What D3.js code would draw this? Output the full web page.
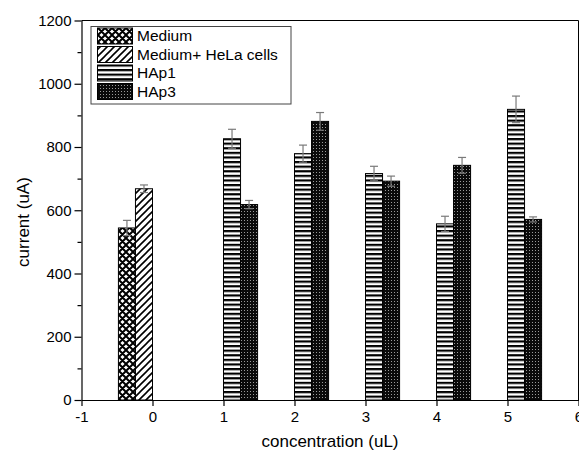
<!DOCTYPE html>
<html>
<head>
<meta charset="utf-8">
<script src="https://cdn.jsdelivr.net/npm/d3@7"></script>
<style>
  html, body { margin: 0; padding: 0; background: #fff; }
  svg { display: block; font-family: "Liberation Sans", Arial, sans-serif; }
</style>
</head>
<body>
<svg id="chart" width="579" height="455"></svg>
<script>
// Series names and their fill patterns
const seriesNames = ["Medium", "Medium+ HeLa cells", "HAp1", "HAp3"];
const seriesPatterns = ["pat-cross", "pat-slash", "pat-hline", "pat-dots"];

// Control measurements at x = 0
const mediumValue = [544];
const mediumError = [24];
const helaValue = [668];
const helaError = [12];

// Concentrations and currents
const concentrations = [1, 2, 3, 4, 5];
const hap1Values = [826, 779, 716, 557, 919];
const hap1Errors = [30, 27, 23, 24, 42];
const hap3Values = [618, 881, 692, 742, 571];
const hap3Errors = [13, 28, 16, 25, 8];

const xTicks = [-1, 0, 1, 2, 3, 4, 5, 6];
const yTicks = [0, 200, 400, 600, 800, 1000, 1200];
const yMinorTicks = [100, 300, 500, 700, 900, 1100];

const barWidth = 0.24;

const svg = d3.select("#chart");
const plotLeft = 81.5, plotRight = 578.5, plotTop = 20.5, plotBottom = 400;

const x = d3.scaleLinear().domain([-1, 6]).range([plotLeft, plotRight]);
const y = d3.scaleLinear().domain([0, 1200]).range([plotBottom, plotTop]);

// Fill patterns
const defs = svg.append("defs");

const cross = defs.append("pattern").attr("id", "pat-cross")
  .attr("patternUnits", "userSpaceOnUse").attr("width", 7).attr("height", 7);
cross.append("rect").attr("width", 7).attr("height", 7).attr("fill", "#fff");
cross.append("path").attr("d", "M0,0L7,7M7,0L0,7M-1,6L1,8M6,-1L8,1M-1,1L1,-1M6,8L8,6")
  .attr("stroke", "#000").attr("stroke-width", 2);

const slash = defs.append("pattern").attr("id", "pat-slash")
  .attr("patternUnits", "userSpaceOnUse").attr("width", 7).attr("height", 7);
slash.append("rect").attr("width", 7).attr("height", 7).attr("fill", "#fff");
slash.append("path").attr("d", "M0,7L7,0M-1,1L1,-1M6,8L8,6")
  .attr("stroke", "#000").attr("stroke-width", 1.6);

const hline = defs.append("pattern").attr("id", "pat-hline")
  .attr("patternUnits", "userSpaceOnUse").attr("width", 6).attr("height", 4.6);
hline.append("rect").attr("width", 6).attr("height", 4.6).attr("fill", "#fff");
hline.append("rect").attr("y", 0).attr("width", 6).attr("height", 2.2).attr("fill", "#000");

const dots = defs.append("pattern").attr("id", "pat-dots")
  .attr("patternUnits", "userSpaceOnUse").attr("width", 3).attr("height", 3);
dots.append("rect").attr("width", 3).attr("height", 3).attr("fill", "#0a0a0a");
dots.append("rect").attr("x", 1).attr("y", 1).attr("width", 1).attr("height", 1).attr("fill", "#9a9a9a");

// Bar records built from the arrays above
const bars = [
  { s: 0, x0: -0.48, v: mediumValue[0], e: mediumError[0] },
  { s: 1, x0: -0.24, v: helaValue[0], e: helaError[0] }
];
concentrations.forEach((c, i) => {
  bars.push({ s: 2, x0: c, v: hap1Values[i], e: hap1Errors[i] });
  bars.push({ s: 3, x0: c + barWidth, v: hap3Values[i], e: hap3Errors[i] });
});

// Plot frame (top and right)
svg.append("line").attr("x1", plotLeft).attr("x2", plotRight).attr("y1", plotTop).attr("y2", plotTop)
  .attr("stroke", "#000").attr("stroke-width", 1);
svg.append("line").attr("x1", plotRight).attr("x2", plotRight).attr("y1", plotTop).attr("y2", plotBottom)
  .attr("stroke", "#000").attr("stroke-width", 1);

// Bars
svg.append("g").selectAll("rect").data(bars).join("rect")
  .attr("x", d => x(d.x0))
  .attr("width", d => x(d.x0 + barWidth) - x(d.x0))
  .attr("y", d => y(d.v))
  .attr("height", d => y(0) - y(d.v))
  .attr("fill", d => `url(#${seriesPatterns[d.s]})`)
  .attr("stroke", "#000").attr("stroke-width", 1);

// Error bars
const eb = svg.append("g").attr("stroke", "#7a7a7a").attr("stroke-width", 1.2);
bars.forEach(d => {
  const cx = x(d.x0 + barWidth / 2);
  eb.append("line").attr("x1", cx).attr("x2", cx).attr("y1", y(d.v - d.e)).attr("y2", y(d.v + d.e));
  eb.append("line").attr("x1", cx - 4).attr("x2", cx + 4).attr("y1", y(d.v + d.e)).attr("y2", y(d.v + d.e));
  eb.append("line").attr("x1", cx - 4).attr("x2", cx + 4).attr("y1", y(d.v - d.e)).attr("y2", y(d.v - d.e));
});

// Axes (plain hyphen for negative labels)
const fmt = d => String(d);
const xAxis = svg.append("g").attr("transform", `translate(0,${plotBottom})`)
  .call(d3.axisBottom(x).tickValues(xTicks).tickFormat(fmt).tickSize(6).tickSizeOuter(0));
const yAxis = svg.append("g").attr("transform", `translate(${plotLeft},0)`)
  .call(d3.axisLeft(y).tickValues(yTicks).tickFormat(fmt).tickSize(7).tickSizeOuter(0));
svg.append("g").attr("transform", `translate(${plotLeft},0)`)
  .call(d3.axisLeft(y).tickValues(yMinorTicks).tickFormat("").tickSize(4).tickSizeOuter(0))
  .call(g => g.select(".domain").remove());

[xAxis, yAxis].forEach(g => {
  g.selectAll("text").attr("font-size", 15).attr("fill", "#000").attr("font-family", "Liberation Sans, Arial, sans-serif");
  g.select(".domain").attr("stroke", "#000").attr("stroke-width", 1.2);
});
svg.selectAll(".tick line").attr("stroke", "#000").attr("stroke-width", 1.2);
xAxis.selectAll("text").attr("dy", "0.95em").attr("y", 8);
yAxis.selectAll("text").attr("x", -10);

// Axis titles
svg.append("text").attr("x", (plotLeft + plotRight) / 2).attr("y", 447)
  .attr("text-anchor", "middle").attr("font-size", 17).attr("fill", "#000")
  .text("concentration (uL)");
svg.append("text").attr("transform", `translate(29,222) rotate(-90)`)
  .attr("text-anchor", "middle").attr("font-size", 17).attr("fill", "#000")
  .text("current (uA)");

// Legend
const lg = svg.append("g");
lg.append("rect").attr("x", 91).attr("y", 26.5).attr("width", 200).attr("height", 77.5)
  .attr("fill", "#fff").attr("stroke", "#444").attr("stroke-width", 1);
seriesNames.forEach((name, i) => {
  const ry = 28 + i * 18.5;
  lg.append("rect").attr("x", 97.5).attr("y", ry).attr("width", 35).attr("height", 16)
    .attr("fill", `url(#${seriesPatterns[i]})`).attr("stroke", "#000").attr("stroke-width", 1);
  lg.append("text").attr("x", 137).attr("y", ry + 13).attr("font-size", 15.5).attr("fill", "#000").text(name);
});
</script>
</body>
</html>
